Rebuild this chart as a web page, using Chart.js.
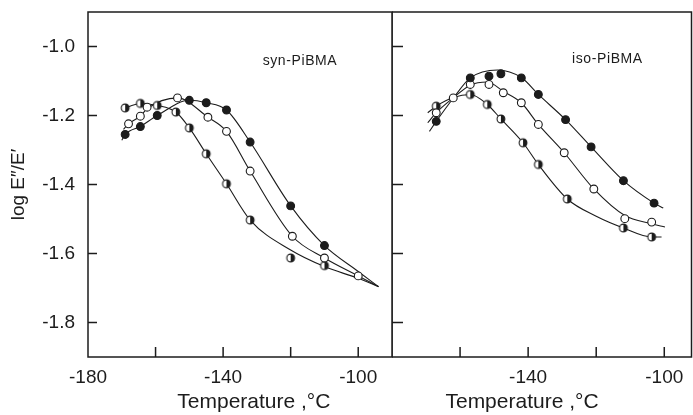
<!DOCTYPE html>
<html>
<head>
<meta charset="utf-8">
<script src="https://cdn.jsdelivr.net/npm/chart.js@4.4.0/dist/chart.umd.min.js"></script>
<style>
body { margin: 0; background: #fff; }
#wrap { position: relative; width: 693px; height: 415px; overflow: hidden; }
canvas { position: absolute; top: 0; }
#left { left: 0; }
#right { left: 392px; }
</style>
</head>
<body>
<div id="wrap">
<canvas id="left" width="394" height="415"></canvas>
<canvas id="right" width="301" height="415"></canvas>
</div>
<script>
// axis ticks shared by both panels
var yTicks = [-1.0, -1.2, -1.4, -1.6, -1.8];
var xTicks = [-180, -160, -140, -120, -100];
var synXLabels = [-180, -140, -100];
var isoXLabels = [-140, -100];
var xTitle = 'Temperature ,\u00b0C';
var yTitle = 'log E\u2033/E\u2032';

// syn-PiBMA, measured points
var synFilledT = [-169, -164.5, -159.5, -150, -145, -139, -132, -120, -110];
var synFilledV = [-1.255, -1.232, -1.200, -1.156, -1.163, -1.184, -1.277, -1.462, -1.577];
var synOpenT = [-168, -164.5, -162.5, -153.5, -144.5, -139, -132, -119.5, -110, -100];
var synOpenV = [-1.224, -1.202, -1.176, -1.149, -1.205, -1.246, -1.361, -1.550, -1.613, -1.665];
var synHalfT = [-169, -164.5, -159.5, -154, -150, -145, -139, -132, -120, -110];
var synHalfV = [-1.178, -1.165, -1.171, -1.190, -1.236, -1.311, -1.398, -1.503, -1.613, -1.635];

// syn-PiBMA, drawn curves
var synFilledCurveT = [-170, -169, -164.5, -159.5, -150, -145, -139, -132, -120, -110, -100, -94];
var synFilledCurveV = [-1.272, -1.255, -1.232, -1.200, -1.156, -1.163, -1.184, -1.277, -1.462, -1.577, -1.652, -1.696];
var synOpenCurveT = [-169.5, -168, -164.5, -162.5, -153.5, -144.5, -139, -132, -119.5, -110, -100, -94];
var synOpenCurveV = [-1.240, -1.224, -1.202, -1.180, -1.149, -1.205, -1.246, -1.361, -1.550, -1.613, -1.665, -1.696];
var synHalfCurveT = [-170, -164.5, -159.5, -154, -150, -145, -139, -132, -120, -110, -100, -94];
var synHalfCurveV = [-1.183, -1.165, -1.171, -1.190, -1.236, -1.311, -1.398, -1.503, -1.590, -1.638, -1.672, -1.696];

// iso-PiBMA, measured points
var isoFilledT = [-167, -157, -151.5, -148, -142, -137, -129, -121.5, -112, -103];
var isoFilledV = [-1.217, -1.091, -1.086, -1.079, -1.091, -1.139, -1.212, -1.291, -1.389, -1.454];
var isoOpenT = [-167, -162, -157, -151.5, -147.3, -142, -137, -129.4, -120.7, -111.6, -103.7];
var isoOpenV = [-1.192, -1.149, -1.110, -1.110, -1.134, -1.163, -1.226, -1.308, -1.413, -1.499, -1.509];
var isoHalfT = [-167, -157, -152, -148, -141.5, -137, -128.5, -112, -103.7];
var isoHalfV = [-1.173, -1.139, -1.168, -1.210, -1.279, -1.342, -1.442, -1.526, -1.552];

// iso-PiBMA, drawn curves
var isoFilledCurveT = [-169, -167, -162, -157, -149, -142, -137, -129, -121.5, -112, -103, -100.3];
var isoFilledCurveV = [-1.246, -1.217, -1.150, -1.091, -1.068, -1.090, -1.139, -1.212, -1.291, -1.389, -1.454, -1.468];
var isoOpenCurveT = [-169.5, -167, -162, -157, -152, -147.3, -142, -137, -129.4, -120.7, -111.6, -103.7, -99.8];
var isoOpenCurveV = [-1.221, -1.192, -1.149, -1.112, -1.103, -1.130, -1.163, -1.226, -1.308, -1.413, -1.490, -1.514, -1.523];
var isoHalfCurveT = [-169.5, -167, -162, -157, -152, -148, -141.5, -137, -128.5, -120, -112, -103.7, -100.8];
var isoHalfCurveV = [-1.192, -1.173, -1.148, -1.139, -1.168, -1.210, -1.279, -1.342, -1.442, -1.492, -1.526, -1.552, -1.552];

var ink = '#1c1c1c';
var family = '"Liberation Sans", Arial, sans-serif';

// circle with the right half filled
function halfDot(r) {
    var c = document.createElement('canvas');
    var s = 12;
    c.width = s; c.height = s;
    var g = c.getContext('2d');
    var m = s / 2;
    g.fillStyle = '#fff';
    g.beginPath(); g.arc(m, m, r, 0, Math.PI * 2); g.fill();
    g.fillStyle = ink;
    g.beginPath(); g.arc(m, m, r, -Math.PI / 2, Math.PI / 2); g.closePath(); g.fill();
    g.strokeStyle = ink; g.lineWidth = 1.1;
    g.beginPath(); g.arc(m, m, r, 0, Math.PI * 2); g.stroke();
    return c;
}
var half = halfDot(3.9);

function pts(t, v) {
    return t.map(function (x, i) { return {x: x, y: v[i]}; });
}

function curve(t, v) {
    return {
        data: pts(t, v), borderColor: ink, borderWidth: 1.1, pointRadius: 0,
        cubicInterpolationMode: 'monotone', fill: false, order: 2
    };
}

function marks(t, v, kind) {
    var d = {data: pts(t, v), showLine: false, pointRadius: 3.9, pointBorderWidth: 1.1,
        pointBorderColor: ink, order: 1};
    if (kind == 'filled') d.pointBackgroundColor = ink;
    if (kind == 'open') d.pointBackgroundColor = '#fff';
    if (kind == 'half') d.pointStyle = half;
    return d;
}

// frame, inward ticks, panel name and axis caption
var framePlugin = {
    id: 'frame',
    afterDraw: function (chart) {
        var o = chart.options.plugins.frame;
        var a = chart.chartArea, ctx = chart.ctx;
        var x = chart.scales.x, y = chart.scales.y;
        ctx.save();
        ctx.strokeStyle = ink;
        ctx.lineWidth = 1.5;
        ctx.strokeRect(a.left, a.top, a.right - a.left, a.bottom - a.top);
        ctx.beginPath();
        yTicks.forEach(function (v) {
            var p = y.getPixelForValue(v);
            ctx.moveTo(a.left, p); ctx.lineTo(a.left + o.yTickLen, p);
        });
        xTicks.forEach(function (v) {
            if (v <= x.min || v >= x.max) return;
            var p = x.getPixelForValue(v);
            ctx.moveTo(p, a.bottom); ctx.lineTo(p, a.bottom - 10);
        });
        ctx.stroke();
        ctx.fillStyle = ink;
        ctx.font = '14px ' + family;
        ctx.letterSpacing = '0.6px';
        ctx.textAlign = 'left';
        ctx.textBaseline = 'middle';
        ctx.fillText(o.name, x.getPixelForValue(o.nameAt[0]), y.getPixelForValue(o.nameAt[1]));
        ctx.letterSpacing = '0px';
        ctx.font = '21px ' + family;
        ctx.textAlign = 'center';
        ctx.textBaseline = 'alphabetic';
        ctx.fillText(xTitle, x.getPixelForValue(o.titleAt), a.bottom + 51);
        ctx.restore();
    }
};

function makeChart(id, sets, cfg) {
    return new Chart(document.getElementById(id), {
        type: 'line',
        data: {datasets: sets},
        options: {
            responsive: false,
            animation: false,
            devicePixelRatio: 1,
            layout: {padding: cfg.padding, autoPadding: false},
            plugins: {
                legend: {display: false},
                tooltip: {enabled: false},
                frame: cfg.frame
            },
            scales: {
                x: {
                    type: 'linear', min: -180, max: cfg.xMax,
                    afterFit: function (s) {
                        s.height = 58;
                        s.paddingLeft = 0; s.paddingRight = 0;
                    },
                    afterBuildTicks: function (s) { s.ticks = xTicks.map(function (v) { return {value: v}; }); },
                    grid: {display: false, drawTicks: false},
                    border: {display: false},
                    ticks: {
                        padding: 9, color: ink, maxRotation: 0, autoSkip: false,
                        font: {family: family, size: 19},
                        callback: function (v) { return cfg.xLabels.indexOf(v) >= 0 ? String(v) : ''; }
                    }
                },
                y: {
                    min: -1.9, max: -0.9,
                    display: cfg.yAxis,
                    afterFit: function (s) {
                        s.width = cfg.yAxis ? 88 : 0;
                        s.paddingTop = 0; s.paddingBottom = 0;
                    },
                    afterBuildTicks: function (s) { s.ticks = yTicks.map(function (v) { return {value: v}; }); },
                    grid: {display: false, drawTicks: false},
                    border: {display: false},
                    ticks: {
                        padding: 13, color: ink,
                        font: {family: family, size: 19},
                        callback: function (v) { return v.toFixed(1); }
                    },
                    title: {
                        display: true, text: yTitle, color: ink,
                        font: {family: family, size: 19},
                        padding: {top: 7, bottom: 0}
                    }
                }
            }
        },
        plugins: [framePlugin]
    });
}

makeChart('left', [
    marks(synFilledT, synFilledV, 'filled'),
    marks(synOpenT, synOpenV, 'open'),
    marks(synHalfT, synHalfV, 'half'),
    curve(synFilledCurveT, synFilledCurveV),
    curve(synOpenCurveT, synOpenCurveV),
    curve(synHalfCurveT, synHalfCurveV)
], {
    xMax: -90, xLabels: synXLabels, yAxis: true,
    padding: {top: 12, right: 2, left: 0, bottom: 0},
    frame: {yTickLen: 9, name: 'syn-PiBMA', nameAt: [-128.3, -1.043], titleAt: -130.9}
});

makeChart('right', [
    marks(isoFilledT, isoFilledV, 'filled'),
    marks(isoOpenT, isoOpenV, 'open'),
    marks(isoHalfT, isoHalfV, 'half'),
    curve(isoFilledCurveT, isoFilledCurveV),
    curve(isoOpenCurveT, isoOpenCurveV),
    curve(isoHalfCurveT, isoHalfCurveV)
], {
    xMax: -92, xLabels: isoXLabels, yAxis: false,
    padding: {top: 12, right: 1.5, left: 0, bottom: 0},
    frame: {yTickLen: 11, name: 'iso-PiBMA', nameAt: [-127.1, -1.038], titleAt: -141.8}
});
</script>
</body>
</html>
